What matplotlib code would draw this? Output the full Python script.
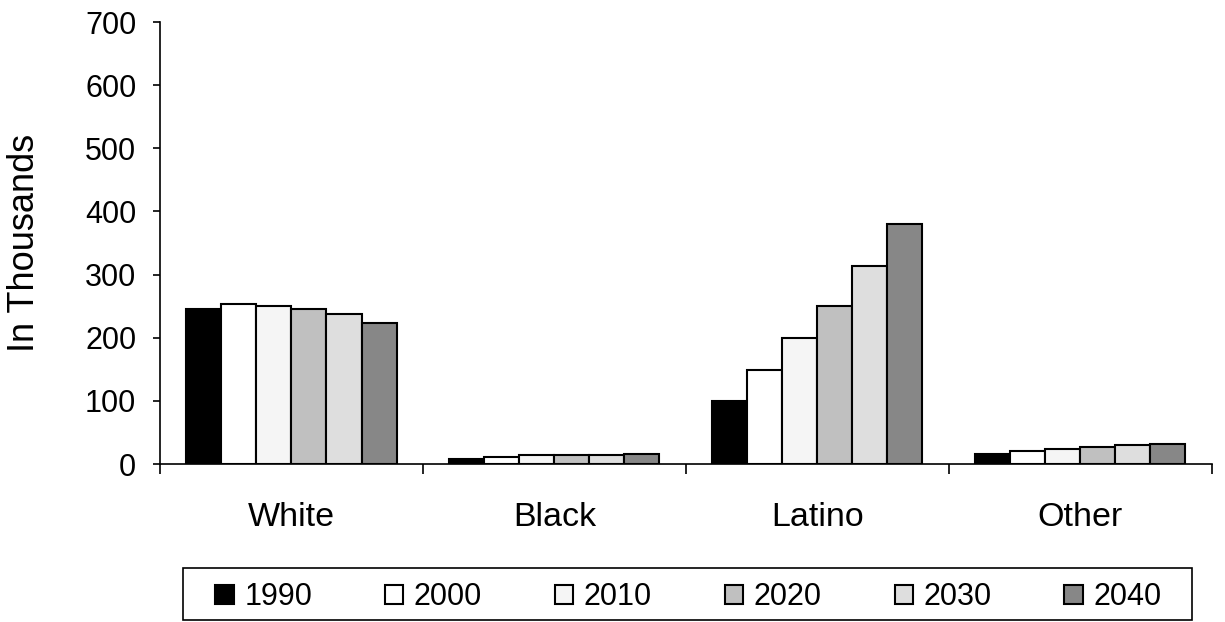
import numpy as np
import matplotlib.pyplot as plt
from matplotlib.patches import Rectangle

plt.rcParams['font.family'] = ['Liberation Sans', 'DejaVu Sans']

groups = ['White', 'Black', 'Latino', 'Other']
years = ['1990', '2000', '2010', '2020', '2030', '2040']

# population in thousands, one list per year (White, Black, Latino, Other)
pop_1990 = [246, 8, 100, 16]
pop_2000 = [254, 11, 149, 21]
pop_2010 = [251, 14, 199, 24]
pop_2020 = [245, 14, 251, 27]
pop_2030 = [238, 14, 313, 30]
pop_2040 = [224, 16, 380, 32]
series = [pop_1990, pop_2000, pop_2010, pop_2020, pop_2030, pop_2040]

fills = ['#000000', '#ffffff', '#f5f5f5', '#c0c0c0', '#dedede', '#878787']

W, H = 1225, 622
fig = plt.figure(figsize=(W / 100, H / 100), dpi=100)
ax = fig.add_axes([0.1306, 0.254, 0.989 - 0.1306, 0.9646 - 0.254])

x = np.arange(len(groups))
width = 1.0 / 7.5
for i, vals in enumerate(series):
    ax.bar(x + (i - 2.5) * width, vals, width, color=fills[i],
           edgecolor='black', linewidth=1.5, label=years[i], zorder=3)

ax.set_xlim(-0.5, len(groups) - 0.5)
ax.set_ylim(0, 700)
ax.set_yticks(range(0, 701, 100))
ax.set_xticks(x)
ax.set_xticklabels(groups)
ax.set_xticks(np.arange(-0.5, len(groups)), minor=True)

for s in ['top', 'right']:
    ax.spines[s].set_visible(False)
for s in ['left', 'bottom']:
    ax.spines[s].set_linewidth(1.2)

ax.tick_params(axis='y', labelsize=22, length=5, width=1.2, pad=12)
ax.tick_params(axis='x', which='major', length=0, labelsize=24.5, pad=27)
ax.tick_params(axis='x', which='minor', length=7.5, width=1.2)

fig.text(25 / W, 0.609, 'In Thousands', fontsize=26, rotation=90,
         ha='center', va='center')

# legend entries without their own frame, boxed by a wider rectangle
fig.legend(loc='center', bbox_to_anchor=(0.562, 1 - 597 / H), ncol=6,
           fontsize=22, frameon=False, handlelength=0.6, handleheight=0.6,
           handletextpad=0.35, columnspacing=2.38)
fig.patches.append(Rectangle((183 / W, 1 - 620 / H), (1192 - 183) / W, 52 / H,
                             transform=fig.transFigure, fill=False,
                             edgecolor='black', linewidth=1.2))

fig.savefig('out.png', dpi=100)
